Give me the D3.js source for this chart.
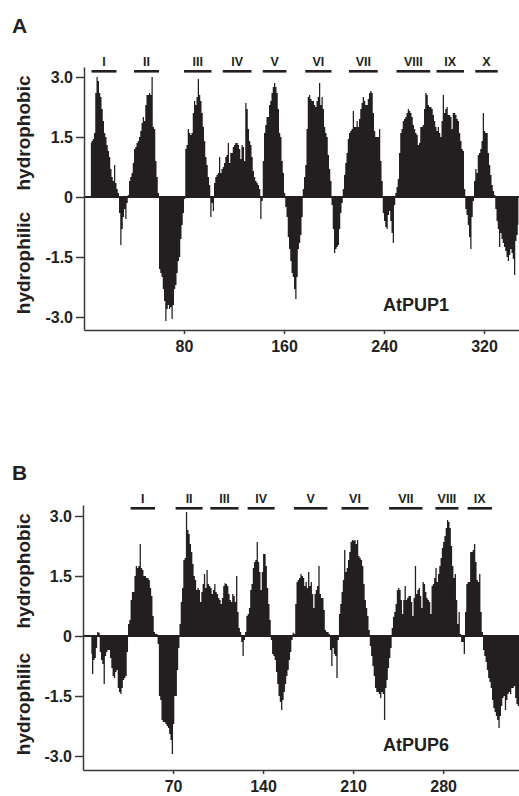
<!DOCTYPE html>
<html>
<head>
<meta charset="utf-8">
<script src="https://cdn.jsdelivr.net/npm/d3@7"></script>
<style>
  body { margin: 0; background: #fff; }
  svg { display: block; font-family: 'Liberation Sans', Arial, Helvetica, sans-serif; }
  .tick text { font-weight: bold; fill: #231f20; }
  .tick line, .domain { stroke: #3a3a3a; stroke-width: 1.5; }
</style>
</head>
<body>
<svg width="519" height="796"></svg>
<script>
// hydropathy values, one per residue
const pup1Start = 5;
const pup1Values = [
  1.35,1.4,1.45,1.6,2.6,3.0,2.9,2.6,2.5,2.2,        // 5
  1.9,1.6,1.5,1.3,1.15,1.0,0.7,0.5,0.4,0.8,         // 15
  0.35,0.2,0.1,-0.4,-1.2,-0.8,-0.5,-0.3,-0.55,-0.15, // 25
  0.05,0.4,0.5,0.6,0.85,1.2,1.25,1.35,1.4,1.5,      // 35
  1.65,1.85,2.0,1.9,2.3,2.55,2.55,2.6,2.55,3.0,     // 45
  1.75,1.7,0.9,0.5,0.1,-1.8,-1.9,-2.0,-2.3,-2.6,    // 55
  -3.1,-2.8,-2.7,-2.8,-2.75,-3.05,-2.7,-2.3,-2.2,-1.9, // 65
  -1.6,-1.5,-1.05,-0.7,-0.4,-0.05,1.2,1.3,1.7,1.6,  // 75
  1.55,1.6,2.1,2.4,2.3,2.5,2.95,2.55,2.4,2.1,       // 85
  1.75,1.4,1.0,0.8,0.5,0.3,-0.5,-0.15,-0.35,0.35,   // 95
  0.5,0.55,0.6,1.0,0.6,0.7,0.75,0.85,1.0,1.05,      // 105
  1.35,0.85,1.1,1.1,1.25,1.3,1.35,1.35,1.3,1.2,     // 115
  0.95,1.3,1.25,0.9,2.35,2.2,1.7,1.4,1.3,1.0,       // 125
  0.65,0.5,0.4,0.35,0.3,0.2,-0.55,-0.1,0.9,1.6,     // 135
  1.8,2.0,2.0,2.3,2.4,2.6,2.75,2.85,2.75,2.6,       // 145
  2.2,1.6,1.5,0.9,0.6,0.1,-0.25,-0.5,-1.0,-1.3,     // 155
  -1.6,-1.9,-2.0,-2.3,-2.55,-2.0,-1.3,-1.15,-0.95,-0.5, // 165
  0.2,0.5,0.8,1.7,2.5,2.55,2.45,2.4,2.4,2.3,        // 175
  2.25,2.4,2.5,2.85,2.3,2.5,2.2,1.75,1.6,1.5,       // 185
  1.05,0.7,0.4,-0.2,-0.8,-1.4,-1.3,-1.25,-1.2,-0.8, // 195
  -0.4,-0.15,0.2,0.55,0.85,1.1,1.45,1.6,1.65,1.7,   // 205
  2.15,1.75,1.75,1.9,1.75,1.95,2.2,2.35,2.5,2.4,    // 215
  2.3,2.3,2.45,2.6,2.65,2.6,2.1,1.65,1.5,1.5,       // 225
  1.5,1.7,0.9,0.4,-0.4,-0.6,-0.75,-0.8,-0.45,-0.35, // 235
  -0.6,-0.9,-1.15,-0.2,0.1,0.25,0.45,1.1,1.6,1.7,   // 245
  1.9,1.95,2.0,2.1,2.2,2.15,2.1,2.0,1.8,1.7,        // 255
  1.6,1.55,1.3,1.35,1.75,1.75,1.8,2.2,2.6,2.55,     // 265
  2.3,2.25,2.25,2.2,2.05,1.9,1.75,1.65,1.75,1.6,    // 275
  1.5,1.9,2.55,2.1,2.2,2.25,2.05,2.05,2.0,1.7,      // 285
  2.1,2.1,2.05,1.95,1.9,1.6,1.4,1.2,1.15,0.2,       // 295
  -0.3,-0.45,-0.7,-1.0,-1.3,-0.5,-0.1,0.4,0.7,0.6,  // 305
  1.05,1.1,1.2,1.4,2.1,1.65,1.6,1.6,1.1,0.8,        // 315
  0.55,0.3,0.15,0.05,-0.3,-0.6,-0.8,-1.25,-0.9,-1.05, // 325
  -1.15,-1.25,-1.35,-1.5,-1.6,-1.45,-1.3,-1.4,-1.55,-1.95, // 335
  -1.1,-0.95,-0.7                                   // 345
];

const pup6Start = 6;
const pup6Values = [
  -0.45,-0.95,-0.6,-0.55,-0.3,0.1,0.08,-0.4,-0.6,-0.7, // 6
  -1.2,-0.5,-0.4,-0.35,-0.35,-0.55,-0.8,-1.0,-1.05,-0.9, // 16
  -0.85,-1.3,-1.4,-1.45,-1.3,-1.1,-1.05,-1.0,-0.4,0.3, // 26
  0.4,0.9,1.1,1.1,1.5,1.75,1.7,1.75,2.3,1.7,        // 36
  1.65,1.5,1.5,1.45,1.45,1.4,1.2,1.0,0.5,0.1,       // 46
  0.05,0.05,-0.2,-1.5,-1.6,-2.1,-2.15,-2.15,-2.2,-2.25, // 56
  -2.3,-2.45,-2.6,-2.95,-2.2,-1.5,-1.5,-0.85,-0.3,0.3, // 66
  0.85,1.2,1.9,1.95,3.1,2.65,2.55,2.3,2.1,1.8,      // 76
  1.5,1.4,1.15,1.2,1.15,0.85,1.1,1.3,1.55,1.2,      // 86
  1.65,1.3,1.25,1.2,1.05,1.15,1.3,1.1,1.05,0.95,    // 96
  0.9,0.8,0.95,1.25,1.32,1.3,1.25,1.05,0.9,0.85,    // 106
  1.05,1.0,0.85,1.5,0.6,0.2,0.1,-0.15,-0.5,-0.1,    // 116
  0.1,0.5,0.55,0.7,1.15,1.3,1.7,1.85,1.9,2.35,      // 126
  1.85,1.6,1.15,1.6,2.05,2.05,1.75,1.2,0.8,0.4,     // 136
  -0.1,-0.45,-0.5,-0.6,-0.9,-1.2,-1.5,-1.65,-1.85,-1.6, // 146
  -1.4,-1.2,-1.0,-0.85,-0.6,-0.4,-0.1,0.08,0.05,0.8, // 156
  1.35,1.4,1.45,1.55,1.5,1.45,1.25,1.35,1.2,1.6,    // 166
  1.25,1.35,1.05,0.7,1.05,1.15,1.25,1.75,1.05,0.95, // 176
  0.95,0.65,0.15,0.1,0.1,0.05,-0.35,-0.75,-0.3,-0.45, // 186
  -0.5,-1.05,-0.1,0.55,0.8,1.1,1.4,2.15,1.6,1.7,    // 196
  1.9,2.1,2.35,2.4,2.38,2.4,2.3,2.4,2.0,1.95,       // 206
  1.9,1.75,1.3,0.9,0.7,0.5,0.15,-0.25,-0.5,-0.75,   // 216
  -1.0,-1.3,-1.4,-1.4,-1.45,-1.55,-1.4,-1.45,-2.1,-1.3, // 226
  -1.1,-0.8,-0.55,-0.3,0.2,0.48,0.6,0.8,1.15,1.2,   // 236
  1.15,0.9,0.55,0.9,1.25,0.9,0.95,1.0,1.0,0.85,     // 246
  0.5,0.95,1.75,1.05,1.15,1.2,1.0,0.7,1.35,1.3,     // 256
  1.1,0.95,0.9,0.85,0.55,1.25,1.3,1.45,1.7,1.35,    // 266
  1.55,1.75,1.95,2.2,2.35,2.5,2.7,2.9,2.85,2.7,     // 276
  2.25,1.75,1.45,1.55,0.9,0.3,0.6,0.05,-0.15,-0.15, // 286
  -0.45,0.6,1.3,1.35,1.35,2.1,2.1,2.15,2.3,1.85,    // 296
  1.4,1.35,1.55,0.6,0.1,-0.35,-0.5,-0.65,-0.85,-1.05, // 306
  -1.15,-1.3,-1.6,-1.8,-1.9,-2.0,-2.1,-2.3,-2.0,-1.75, // 316
  -1.55,-1.5,-1.85,-1.6,-1.45,-1.4,-1.45,-1.3,-1.3,-1.25, // 326
  -1.55,-1.7,-1.75,-1.8                             // 336
];

// transmembrane segments (start, end residue) and their labels
const pup1Segments = [[6,26],[40,60],[80,102],[111,134],[143,162],[177,198],[212,235],[250,277],[282,304],[313,331]];
const pup1Labels = ['I','II','III','IV','V','VI','VII','VIII','IX','X'];
const pup6Segments = [[37,56],[72,93],[99,121],[128,149],[164,190],[201,222],[238,264],[274,292],[299,318]];
const pup6Labels = ['I','II','III','IV','V','VI','VII','VIII','IX'];

const pup1Ticks = [80, 160, 240, 320];
const pup6Ticks = [70, 140, 210, 280];
const yTicks = [3.0, 1.5, 0, -1.5, -3.0];

const svg = d3.select('svg');
const ink = '#231f20';

const render = p => {
    const xScale = d3.scaleLinear().domain([0, p.xMax]).range([p.left, 519]);
    const yScale = d3.scaleLinear().domain([p.yMin, p.yMax]).range([p.bottom, p.top]);

    const data = p.values.map((v, i) => ({ r: p.start + i, v }));

    const g = svg.append('g');

    const area = d3.area()
        .x(d => xScale(d.r + 0.5))
        .y0(yScale(0))
        .y1(d => yScale(d.v))
        .curve(d3.curveStep);

    g.append('path')
        .attr('d', area(data))
        .attr('fill', ink);

    // zero line
    g.append('line')
        .attr('x1', xScale(0)).attr('x2', 519)
        .attr('y1', yScale(0)).attr('y2', yScale(0))
        .attr('stroke', ink)
        .attr('stroke-width', 2);

    const yAxis = d3.axisLeft(yScale)
        .tickValues(yTicks)
        .tickFormat(d => d === 0 ? '0' : d.toFixed(1))
        .tickSize(8)
        .tickSizeOuter(0)
        .tickPadding(3);

    const yAxisG = g.append('g')
        .attr('transform', `translate(${xScale(0)},0)`)
        .call(yAxis);
    yAxisG.attr('font-family', null).attr('font-size', null);
    yAxisG.selectAll('text').style('font-size', '16px');

    const xAxis = d3.axisBottom(xScale)
        .tickValues(p.ticks)
        .tickSize(4)
        .tickSizeOuter(0)
        .tickPadding(7);

    const xAxisG = g.append('g')
        .attr('transform', `translate(0,${p.bottom})`)
        .call(xAxis);
    xAxisG.attr('font-family', null).attr('font-size', null);
    xAxisG.selectAll('text').style('font-size', '16px');

    // segment bars and numerals
    const segG = g.append('g');
    segG.selectAll('rect').data(p.segments)
        .enter().append('rect')
            .attr('x', d => xScale(d[0]))
            .attr('width', d => xScale(d[1]) - xScale(d[0]))
            .attr('y', p.barY)
            .attr('height', 2.6)
            .attr('fill', ink);

    segG.selectAll('text').data(p.segments)
        .enter().append('text')
            .attr('x', d => xScale((d[0] + d[1]) / 2))
            .attr('y', p.barY - 4.5)
            .attr('text-anchor', 'middle')
            .attr('font-size', '12.5px')
            .attr('font-weight', 'bold')
            .attr('fill', ink)
            .text((d, i) => p.labels[i]);

    // panel letter
    g.append('text')
        .attr('x', 12)
        .attr('y', p.letterY)
        .attr('font-size', '21px')
        .attr('font-weight', 'bold')
        .attr('fill', ink)
        .text(p.letter);

    // side labels
    g.append('text')
        .attr('transform', `translate(30,${p.phobicY}) rotate(-90)`)
        .attr('text-anchor', 'middle')
        .attr('font-size', '19px')
        .attr('font-weight', 'bold')
        .attr('fill', ink)
        .text('hydrophobic');

    g.append('text')
        .attr('transform', `translate(30,${p.philicY}) rotate(-90)`)
        .attr('text-anchor', 'middle')
        .attr('font-size', '19px')
        .attr('font-weight', 'bold')
        .attr('fill', ink)
        .text('hydrophilic');

    g.append('text')
        .attr('x', 383)
        .attr('y', p.nameY)
        .attr('font-size', '18px')
        .attr('font-weight', 'bold')
        .attr('fill', ink)
        .text(p.name);
};

render({
    letter: 'A', letterY: 33, name: 'AtPUP1', nameY: 311,
    start: pup1Start, values: pup1Values, segments: pup1Segments, labels: pup1Labels,
    ticks: pup1Ticks, xMax: 348, left: 84,
    yMin: -3.325, yMax: 3.25, top: 67, bottom: 330, barY: 70,
    phobicY: 133, philicY: 263
});

render({
    letter: 'B', letterY: 480, name: 'AtPUP6', nameY: 751,
    start: pup6Start, values: pup6Values, segments: pup6Segments, labels: pup6Labels,
    ticks: pup6Ticks, xMax: 339, left: 83,
    yMin: -3.35, yMax: 3.275, top: 505, bottom: 770, barY: 507,
    phobicY: 571, philicY: 704
});
</script>
</body>
</html>
